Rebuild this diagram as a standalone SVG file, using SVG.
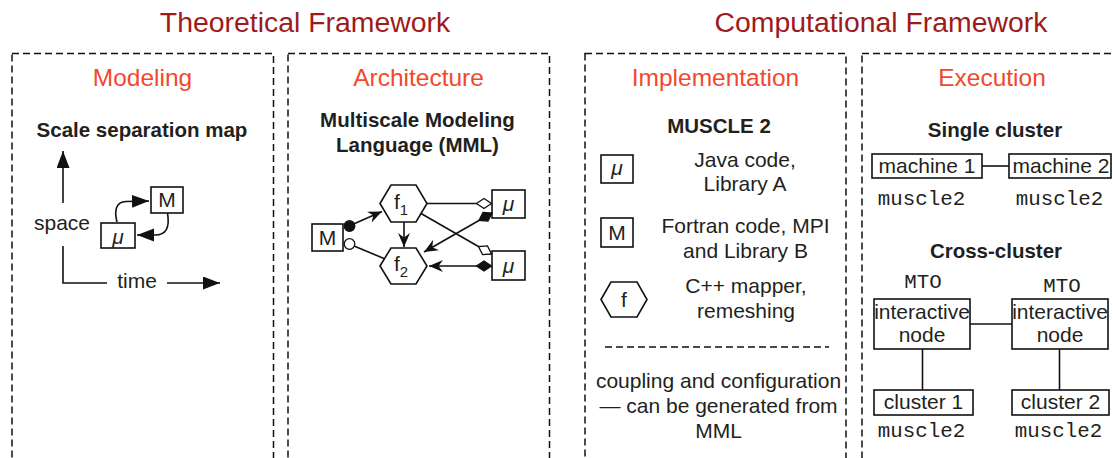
<svg xmlns="http://www.w3.org/2000/svg" width="1113" height="458" viewBox="0 0 1113 458">
<style>
.title{font-family:"Liberation Sans",Arial,sans-serif;font-size:28.4px;fill:#9e1b1b;text-anchor:middle}
.sub{font-family:"Liberation Sans",Arial,sans-serif;font-size:24.5px;fill:#f1492d;text-anchor:middle}
.hd{font-family:"Liberation Sans",Arial,sans-serif;font-size:20.5px;font-weight:bold;fill:#231f20;text-anchor:middle}
.t{font-family:"Liberation Sans",Arial,sans-serif;font-size:21px;fill:#231f20;text-anchor:middle}
.mu{font-family:"Liberation Sans",Arial,sans-serif;font-size:21px;font-style:italic;fill:#231f20;text-anchor:middle}
.mono{font-family:"Liberation Mono","Courier New",monospace;font-size:20.8px;fill:#231f20;text-anchor:middle}
.panel{fill:none;stroke:#111;stroke-width:1.5;stroke-dasharray:7 4}
.box{fill:#fff;stroke:#111;stroke-width:1.6}
.ln{fill:none;stroke:#111;stroke-width:1.6}
</style>
<defs>
<marker id="tri" markerUnits="userSpaceOnUse" markerWidth="18" markerHeight="14" refX="17" refY="6.5" orient="auto">
<path d="M0,0 L17,6.5 L0,13 z" fill="#111"/>
</marker>
<marker id="stealth" markerUnits="userSpaceOnUse" markerWidth="16" markerHeight="13" refX="14" refY="6" orient="auto">
<path d="M0,0 L14,6 L0,12 L4.5,6 z" fill="#111"/>
</marker>
<marker id="dOpen" markerUnits="userSpaceOnUse" markerWidth="20" markerHeight="14" refX="1" refY="6" orient="auto">
<path d="M1,6 L8.5,1 L16,6 L8.5,11 z" fill="#fff" stroke="#111" stroke-width="1.3"/>
</marker>
<marker id="dFill" markerUnits="userSpaceOnUse" markerWidth="20" markerHeight="14" refX="1" refY="6" orient="auto">
<path d="M1,6 L8.5,1 L16,6 L8.5,11 z" fill="#111" stroke="#111" stroke-width="1.3"/>
</marker>
</defs>

<text class="title" x="305" y="32">Theoretical Framework</text>
<text class="title" x="881" y="32">Computational Framework</text>

<rect class="panel" x="12" y="53.5" width="261.5" height="430"/>
<rect class="panel" x="288" y="53.5" width="261.5" height="430"/>
<rect class="panel" x="585" y="53.5" width="261" height="430"/>
<rect class="panel" x="862" y="53.5" width="262" height="430"/>

<g id="modeling">
<text class="sub" x="142.5" y="86">Modeling</text>
<text class="hd" x="142" y="137">Scale separation map</text>
<text class="t" x="62" y="230">space</text>
<text class="t" x="137" y="288">time</text>
</g>

<g id="ssm-mu"><rect class="box" x="101" y="223" width="34" height="25"/><text class="mu" x="118" y="244">μ</text></g>
<g id="ssm-M"><rect class="box" x="151" y="187" width="32" height="26"/><text class="t" x="167" y="207">M</text></g>

<g id="arch">
<text class="sub" x="418.5" y="86">Architecture</text>
<text class="hd" x="417.5" y="127">Multiscale Modeling</text>
<text class="hd" x="417.5" y="152">Language (MML)</text>
</g>

<g id="mml-M"><rect class="box" x="312" y="224" width="31" height="27"/><text class="t" x="327.5" y="245">M</text></g>
<g id="mml-f1"><polygon class="box" points="380,203.5 391,185 416,185 427,203.5 416,222 391,222"/><text class="t" x="401" y="209">f<tspan font-size="15" dy="6">1</tspan></text></g>
<g id="mml-f2"><polygon class="box" points="380,266 391,248 416,248 427,266 416,284 391,284"/><text class="t" x="401" y="271">f<tspan font-size="15" dy="6">2</tspan></text></g>
<g id="mml-mu1"><rect class="box" x="492" y="190" width="33" height="28"/><text class="mu" x="508.5" y="211">μ</text></g>
<g id="mml-mu2"><rect class="box" x="492" y="251" width="33" height="29"/><text class="mu" x="508.5" y="273">μ</text></g>

<g id="impl">
<text class="sub" x="715.5" y="86">Implementation</text>
<text class="hd" x="719" y="133">MUSCLE 2</text>
<text class="t" x="745" y="167">Java code,</text>
<text class="t" x="745" y="191">Library A</text>
<text class="t" x="745.5" y="233">Fortran code, MPI</text>
<text class="t" x="745.5" y="258">and Library B</text>
<text class="t" x="746" y="293">C++ mapper,</text>
<text class="t" x="746" y="318">remeshing</text>
<line x1="605" y1="347" x2="829" y2="347" stroke="#111" stroke-width="1.5" stroke-dasharray="7 4"/>
<text class="t" x="718.5" y="388">coupling and configuration</text>
<text class="t" x="718.5" y="413">— can be generated from</text>
<text class="t" x="718.5" y="438">MML</text>
</g>
<g id="leg-mu"><rect class="box" x="601" y="155" width="32" height="28"/><text class="mu" x="617" y="175">μ</text></g>
<g id="leg-M"><rect class="box" x="601" y="218" width="32" height="29"/><text class="t" x="617" y="240">M</text></g>
<g id="leg-f"><polygon class="box" points="601,299.5 611,282 637,282 647,299.5 637,317 611,317"/><text class="t" x="624" y="307">f</text></g>

<g id="exec">
<text class="sub" x="992" y="86">Execution</text>
<text class="hd" x="995" y="137">Single cluster</text>
<text class="mono" x="921.5" y="205">muscle2</text>
<text class="mono" x="1059.5" y="205">muscle2</text>
<text class="hd" x="996" y="258">Cross-cluster</text>
<text class="mono" x="923" y="288">MTO</text>
<text class="mono" x="1062" y="291.5">MTO</text>
<text class="mono" x="921.5" y="437">muscle2</text>
<text class="mono" x="1058.5" y="437">muscle2</text>
</g>
<g id="machine1"><rect class="box" x="872" y="154" width="110" height="24"/><text class="t" x="927" y="173">machine 1</text></g>
<g id="machine2"><rect class="box" x="1009" y="154" width="102" height="24"/><text class="t" x="1061" y="173">machine 2</text></g>
<g id="inode1"><rect class="box" x="874" y="299" width="96" height="50"/><text class="t" x="922" y="319">interactive</text><text class="t" x="922" y="342">node</text></g>
<g id="inode2"><rect class="box" x="1012" y="299" width="96" height="50"/><text class="t" x="1060" y="319">interactive</text><text class="t" x="1060" y="342">node</text></g>
<g id="cluster1"><rect class="box" x="874" y="390" width="99" height="25"/><text class="t" x="923.5" y="409">cluster 1</text></g>
<g id="cluster2"><rect class="box" x="1012" y="390" width="97" height="25"/><text class="t" x="1060.5" y="409">cluster 2</text></g>

<g id="connectors">
<line class="ln" x1="63" y1="203" x2="63" y2="151" marker-end="url(#tri)"/>
<polyline class="ln" points="63,246 63,283 107,283"/>
<line class="ln" x1="167" y1="283" x2="220" y2="283" marker-end="url(#tri)"/>
<path class="ln" d="M117,222 C114,210 116,202 126,201.5 L149,201" marker-end="url(#tri)"/>
<path class="ln" d="M167.5,213 C170,228 166,235 155,235 L137,235" marker-end="url(#tri)"/>

<line class="ln" x1="349" y1="226" x2="382" y2="211.5" marker-end="url(#stealth)"/>
<line class="ln" x1="354" y1="246" x2="384" y2="258.5"/>
<circle cx="349.5" cy="226" r="5.3" fill="#111" stroke="#111" stroke-width="1.3"/>
<circle cx="349.5" cy="244" r="5.3" fill="#fff" stroke="#111" stroke-width="1.3"/>
<line class="ln" x1="404" y1="222" x2="404" y2="247" marker-end="url(#stealth)"/>
<line class="ln" x1="491.5" y1="203.5" x2="427" y2="203.5" marker-start="url(#dOpen)"/>
<line class="ln" x1="491.5" y1="254" x2="420.6" y2="213.3" marker-start="url(#dOpen)"/>
<line class="ln" x1="492" y1="213" x2="424" y2="252" marker-start="url(#dFill)" marker-end="url(#stealth)"/>
<line class="ln" x1="491.5" y1="266" x2="429" y2="266" marker-start="url(#dFill)" marker-end="url(#stealth)"/>

<line class="ln" x1="982" y1="166" x2="1009" y2="166"/>
<line class="ln" x1="970" y1="324" x2="1012" y2="324"/>
<line class="ln" x1="922.5" y1="349" x2="922.5" y2="390"/>
<line class="ln" x1="1059.5" y1="349" x2="1059.5" y2="390"/>
</g>
</svg>
